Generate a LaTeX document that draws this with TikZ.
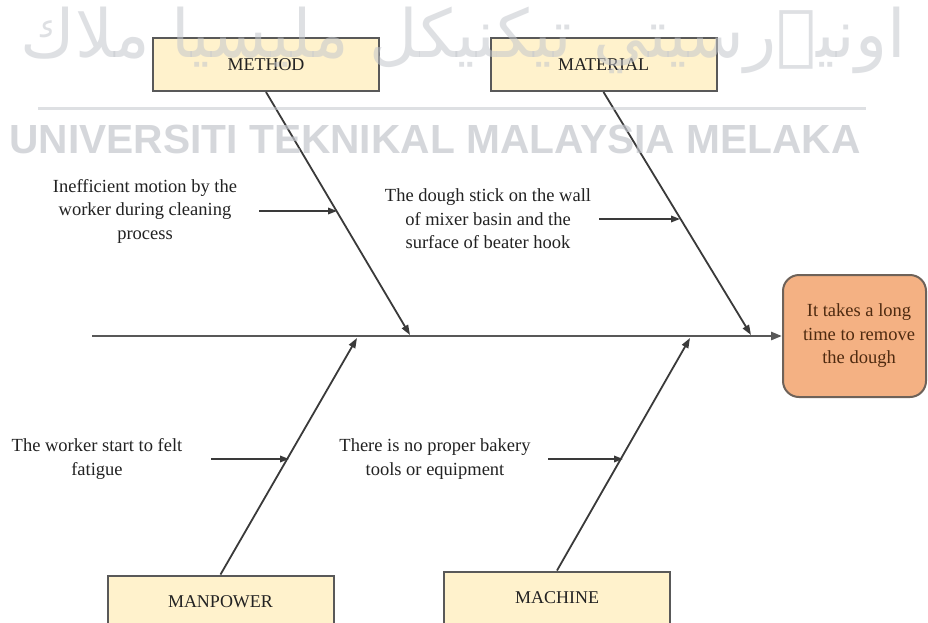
\documentclass[tikz,border=0pt]{standalone}
\usepackage{fontspec}
\usepackage{graphicx}
\setmainfont{Liberation Serif}
\newfontfamily\wmsans{Liberation Sans}
\newfontfamily\jawifont[Script=Arabic]{DejaVu Sans}
\TeXXeTstate=1
\usetikzlibrary{arrows.meta}

\definecolor{catfill}{HTML}{FFF2CC}
\definecolor{catedge}{HTML}{595959}
\definecolor{effectfill}{HTML}{F4B183}
\definecolor{effectedge}{HTML}{6E6259}
\definecolor{effecttext}{HTML}{4E2A10}
\definecolor{bonecol}{HTML}{3A3A3A}
\definecolor{labelcol}{HTML}{222222}
\definecolor{wmcol}{HTML}{C4C7CD}

\tikzset{
  catbox/.style={draw=catedge, line width=2pt, fill=catfill, rectangle,
    minimum width=226pt, minimum height=53pt, inner sep=0pt,
    text=labelcol, font=\fontsize{18}{22}\selectfont},
  effectbox/.style={draw=effectedge, line width=2pt, fill=effectfill,
    rounded corners=16pt, minimum width=143pt, minimum height=122pt,
    inner sep=0pt, align=center, text=effecttext,
    font=\fontsize{18.5}{23.5}\selectfont},
  cause/.style={align=center, inner sep=0pt, text=labelcol,
    font=\fontsize{18.5}{23.5}\selectfont},
  bone/.style={draw=bonecol, line width=1.8pt,
    -{Triangle[length=10pt,width=7pt]}},
  spine/.style={draw=bonecol!85, line width=2.6pt,
    -{Triangle[length=11pt,width=8pt]}},
  subarrow/.style={draw=bonecol, line width=1.8pt,
    -{Triangle[length=9pt,width=6.5pt]}},
  wmark/.style={inner sep=0pt, text=wmcol}
}

\begin{document}
\begin{tikzpicture}[x=1pt, y=-1pt]
\useasboundingbox (0,0) rectangle (928,622);
\fill[white] (0,0) rectangle (928,622);
\clip (0,0) rectangle (928,622);

% category boxes
\node[catbox] (method)   at (266,64.5)  {METHOD};
\node[catbox] (material) at (603.5,64.5) {MATERIAL};
\node[catbox] (manpower) at (220.5,602) {MANPOWER};
\node[catbox] (machine)  at (557,598)   {MACHINE};

% effect (fish head); the text sits a little right of the box centre
\node[effectbox] (effect) at (854.5,336)
  {\hspace*{9pt}It takes a long\\\hspace*{9pt}time to remove\\\hspace*{9pt}the dough};

% spine
\coordinate (tail) at (92,336);
\draw[spine] (tail) -- (effect.west);

% points where the bones meet the spine
\coordinate (jmethod)   at (410,335);
\coordinate (jmaterial) at (751,335);
\coordinate (jmanpower) at (357,338);
\coordinate (jmachine)  at (690,338);

\draw[bone] (method.south)   -- (jmethod);
\draw[bone] (material.south) -- (jmaterial);
\draw[bone] (manpower.north) -- (jmanpower);
\draw[bone] (machine.north)  -- (jmachine);

% causes
\node[cause] (c1) at (145,211)
  {Inefficient motion by the\\worker during cleaning\\process};
\node[cause] (c2) at (488,219)
  {The dough stick on the wall\\of mixer basin and the\\surface of beater hook};
\node[cause] (c3) at (97,459)
  {The worker start to felt\\fatigue};
\node[cause] (c4) at (435,459)
  {There is no proper bakery\\tools or equipment};

\coordinate (a1s) at (259,211);  \coordinate (a1e) at (337,211);
\coordinate (a2s) at (599,219);  \coordinate (a2e) at (680,219);
\coordinate (a3s) at (211,459);  \coordinate (a3e) at (289,459);
\coordinate (a4s) at (548,459);  \coordinate (a4e) at (623,459);

\draw[subarrow] (a1s) -- (a1e);
\draw[subarrow] (a2s) -- (a2e);
\draw[subarrow] (a3s) -- (a3e);
\draw[subarrow] (a4s) -- (a4e);

% repository watermark, faint and laid over the drawing
\begin{scope}[opacity=0.55]
\node[wmark] (wmjawi) at (463,40)
  {\resizebox{885pt}{!}{\jawifont\beginR اونيۏرسيتي تيكنيكل مليسيا ملاك\endR}};
\coordinate (wl1) at (38,108);
\coordinate (wl2) at (866,108);
\draw[wmcol, line width=3pt] (wl1) -- (wl2);
\end{scope}
\node[wmark, opacity=0.7] (wmlatin) at (435,139)
  {\wmsans\bfseries\fontsize{40.7}{44}\selectfont UNIVERSITI TEKNIKAL MALAYSIA MELAKA};
\end{tikzpicture}
\end{document}
